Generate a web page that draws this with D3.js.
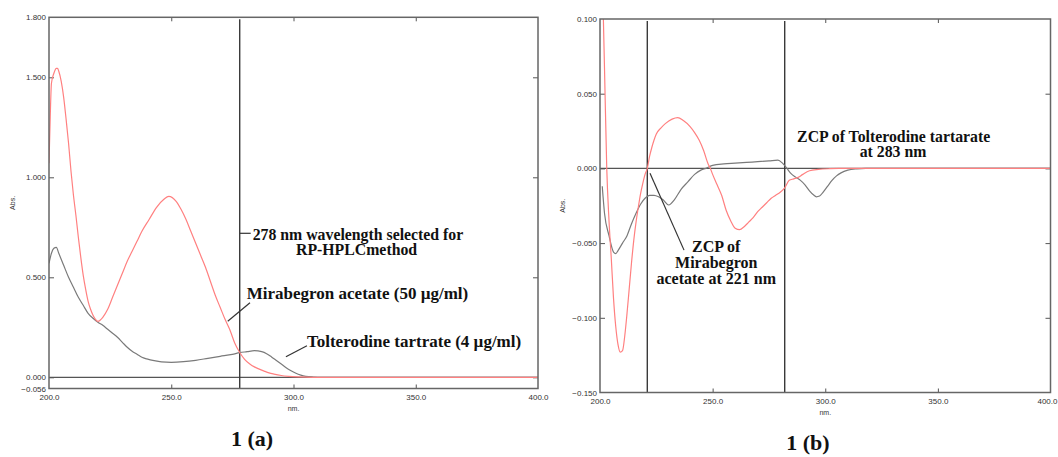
<!DOCTYPE html>
<html>
<head>
<meta charset="utf-8">
<script src="https://cdn.jsdelivr.net/npm/d3@7"></script>
<style>
  body { margin: 0; background: #fff; }
  .tick text { font-family: "Liberation Sans", Arial, sans-serif; font-size: 8px; fill: #333; }
  .note { font-family: "Liberation Serif", "Times New Roman", serif; font-weight: bold; fill: #111; }
</style>
</head>
<body>
<svg id="chart" width="1058" height="457"></svg>
<script>
// ---- data ----
// panel 1(a): zero order spectra [nm, Abs]
var mirabegronAbs = [[200,1.07],[200.5,1.30],[201,1.47],[202,1.52],[203,1.545],[203.5,1.545],[204,1.53],[205,1.48],
  [206,1.40],[207,1.29],[208,1.17],[209,1.03],[210,0.91],[211,0.81],[212,0.70],[213,0.60],[214,0.51],[215,0.44],
  [216,0.38],[217,0.34],[218,0.31],[219,0.29],[220,0.28],[222,0.30],[224,0.34],[226,0.40],[228,0.46],[230,0.52],
  [232,0.58],[234,0.63],[236,0.68],[238,0.73],[241,0.79],[244,0.85],[247,0.89],[249,0.905],[252,0.88],[254,0.84],
  [256,0.79],[258,0.73],[260,0.67],[262,0.61],[264,0.55],[266,0.48],[268,0.41],[270,0.35],[272,0.29],[274,0.237],
  [276,0.17],[278,0.124],[280,0.09],[282,0.068],[284,0.052],[286,0.041],[288,0.031],[290,0.022],[292,0.016],
  [295,0.009],[298,0.005],[302,0.002],[308,0.0],[350,0.0],[400,0.0]];
var tolterodineAbs = [[200,0.57],[201,0.62],[202,0.645],[203,0.65],[204,0.62],[206,0.56],[208,0.50],[210,0.45],
  [212,0.40],[214,0.36],[216,0.32],[218,0.295],[220,0.275],[222,0.26],[224,0.24],[226,0.22],[228,0.20],[230,0.175],
  [232,0.15],[234,0.13],[236,0.115],[238,0.10],[240,0.092],[243,0.083],[246,0.077],[250,0.075],[255,0.078],
  [260,0.085],[265,0.095],[270,0.105],[275,0.115],[278,0.123],[281,0.128],[284,0.133],[287,0.128],[289,0.118],
  [291,0.102],[293,0.084],[295,0.066],[297,0.048],[299,0.033],[301,0.02],[303,0.011],[305,0.005],[308,0.0015],
  [312,0.0],[350,0.0],[400,0.0]];

// panel 1(b): first derivative spectra [nm, dA]
var mirabegronD1 = [[200,0.20],[201,0.135],[201.5,0.10],[202,0.067],[203,0.0],[204,-0.035],[205,-0.06],[206,-0.087],
  [207,-0.106],[208,-0.118],[209,-0.123],[210,-0.122],[211,-0.112],[212,-0.097],[213,-0.08],[214,-0.063],
  [215,-0.048],[216,-0.036],[217,-0.026],[218,-0.017],[219,-0.010],[220,-0.004],[221,0.0],[222,0.008],[223,0.014],
  [224,0.019],[225,0.023],[227,0.027],[229,0.030],[232,0.033],[234.5,0.034],[237,0.032],[240,0.028],[242,0.024],
  [244,0.019],[246,0.012],[248,0.003],[249,0.0],[250,-0.004],[252,-0.011],[254,-0.018],[256,-0.028],[258,-0.035],
  [260,-0.040],[262,-0.041],[264,-0.039],[266,-0.036],[268,-0.033],[270,-0.029],[272,-0.026],[274,-0.023],
  [276,-0.020],[278,-0.018],[280,-0.016],[282,-0.013],[284,-0.008],[286,-0.007],[288,-0.006],[290,-0.004],
  [293,-0.0016],[297,-0.0007],[302,-0.0002],[306,0.0],[350,0.0],[400,0.0]];
var tolterodineD1 = [[201,-0.012],[202,-0.03],[204,-0.045],[206,-0.056],[207,-0.057],[208,-0.055],[210,-0.05],
  [212,-0.045],[214,-0.037],[216,-0.030],[218,-0.024],[220,-0.02],[222,-0.018],[224,-0.018],[226,-0.019],
  [228,-0.021],[230.5,-0.0245],[233,-0.021],[236,-0.014],[239,-0.009],[242,-0.004],[245,-0.001],[247,0.0],
  [250,0.002],[255,0.003],[260,0.0035],[265,0.004],[270,0.0045],[275,0.005],[279,0.0055],[281,0.0035],[283,0.0],
  [284.5,-0.003],[287,-0.006],[289,-0.008],[291,-0.011],[293,-0.015],[295,-0.018],[296,-0.019],[297.5,-0.0185],
  [299,-0.016],[301,-0.012],[303,-0.008],[305,-0.005],[307,-0.003],[310,-0.0012],[314,-0.0003],[318,0.0],
  [350,0.0],[400,0.0]];

var xTicks = [200, 250, 300, 350, 400];
var yTicksA = [1.8, 1.5, 1.0, 0.5, 0.0, -0.056];
var yTicksB = [0.1, 0.05, 0.0, -0.05, -0.1, -0.15];
var selectedLine = [278];        // nm marked in 1(a)
var zcpLines = [221, 282];       // nm marked in 1(b)

var svg = d3.select('#chart');

// one spectrum panel
function panel(opts) {
    var x = d3.scaleLinear().domain([200, 400]).range(opts.xr);
    var y = d3.scaleLinear().domain(opts.yd).range(opts.yr);
    var g = svg.append('g');

    g.append('clipPath').attr('id', opts.id + '-clip')
        .append('rect')
        .attr('x', opts.xr[0]).attr('y', opts.yr[1])
        .attr('width', opts.xr[1] - opts.xr[0]).attr('height', opts.yr[0] - opts.yr[1]);

    // ticks, inward on all four sides
    var innerX = xTicks.slice(1, -1);
    var innerY = opts.yTicks.slice(1, -1);
    var bottom = g.append('g').attr('transform', 'translate(0,' + opts.yr[0] + ')')
        .call(d3.axisBottom(x).tickValues(xTicks).tickFormat(d3.format('.1f')).tickSize(0).tickPadding(6));
    // keep the last label on the page
    bottom.selectAll('.tick text').filter(function (d) { return x(d) + 12 > 1058; })
        .attr('text-anchor', 'end').attr('dx', 1058 - 1 - x(400));
    g.append('g').attr('transform', 'translate(0,' + opts.yr[0] + ')')
        .call(d3.axisBottom(x).tickValues(innerX).tickFormat('').tickSize(-4));
    g.append('g').attr('transform', 'translate(0,' + opts.yr[1] + ')')
        .call(d3.axisTop(x).tickValues(innerX).tickFormat('').tickSize(-4));
    g.append('g').attr('transform', 'translate(' + opts.xr[0] + ',0)')
        .call(d3.axisLeft(y).tickValues(opts.yTicks).tickFormat(d3.format('.3f')).tickSize(0).tickPadding(3));
    g.append('g').attr('transform', 'translate(' + opts.xr[0] + ',0)')
        .call(d3.axisLeft(y).tickValues(innerY).tickFormat('').tickSize(-5));
    g.append('g').attr('transform', 'translate(' + opts.xr[1] + ',0)')
        .call(d3.axisRight(y).tickValues(innerY).tickFormat('').tickSize(-5));
    g.selectAll('.domain').remove();
    g.selectAll('.tick line').attr('stroke', '#555');

    // zero line
    g.append('line')
        .attr('x1', opts.xr[0]).attr('x2', opts.xr[1])
        .attr('y1', y(0)).attr('y2', y(0))
        .attr('stroke', '#555').attr('stroke-width', 1.3);

    // marker lines
    g.selectAll('.vline').data(opts.vlines).enter().append('line')
        .attr('x1', function (d) { return x(d); }).attr('x2', function (d) { return x(d); })
        .attr('y1', opts.yr[1] + 2).attr('y2', opts.yr[0])
        .attr('stroke', '#3a3a3a').attr('stroke-width', 1.4);

    var line = d3.line()
        .x(function (d) { return x(d[0]); })
        .y(function (d) { return y(d[1]); })
        .curve(d3.curveMonotoneX);

    var curves = g.append('g').attr('clip-path', 'url(#' + opts.id + '-clip)');
    curves.append('path').datum(opts.gray)
        .attr('d', line).attr('fill', 'none').attr('stroke', '#7a7a7a').attr('stroke-width', 1.2);
    curves.append('path').datum(opts.red)
        .attr('d', line).attr('fill', 'none').attr('stroke', '#ff8080').attr('stroke-width', 1.2);

    // frame
    g.append('rect')
        .attr('x', opts.xr[0]).attr('y', opts.yr[1])
        .attr('width', opts.xr[1] - opts.xr[0]).attr('height', opts.yr[0] - opts.yr[1])
        .attr('fill', 'none').attr('stroke', '#666').attr('stroke-width', 1.5);

    // axis names
    g.append('text')
        .attr('transform', 'translate(' + opts.absX + ',' + ((opts.yr[0] + opts.yr[1]) / 2) + ') rotate(-90)')
        .attr('text-anchor', 'middle')
        .style('font-family', '"Liberation Sans", Arial, sans-serif').style('font-size', '7px').style('fill', '#333')
        .text('Abs.');
    g.append('text')
        .attr('x', x(300)).attr('y', opts.yr[0] + 22)
        .attr('text-anchor', 'middle')
        .style('font-family', '"Liberation Sans", Arial, sans-serif').style('font-size', '7px').style('fill', '#333')
        .text('nm.');

    // annotations (positions in data units)
    opts.notes.forEach(function (n) {
        g.append('text').attr('class', 'note')
            .attr('x', x(n.nm)).attr('y', y(n.v))
            .attr('text-anchor', n.anchor || 'start')
            .style('font-size', n.size + 'px')
            .text(n.text);
    });
    opts.leaders.forEach(function (l) {
        g.append('line')
            .attr('x1', x(l[0])).attr('y1', y(l[1]))
            .attr('x2', x(l[2])).attr('y2', y(l[3]))
            .attr('stroke', '#333').attr('stroke-width', 1.2);
    });

    g.append('text')
        .attr('x', opts.capX).attr('y', opts.capY)
        .attr('text-anchor', 'middle')
        .style('font-family', '"Liberation Serif", "Times New Roman", serif')
        .style('font-weight', 'bold').style('font-size', '22px').style('fill', '#111')
        .text(opts.caption);
}

panel({
    id: 'a',
    xr: [49, 538], yd: [-0.056, 1.8], yr: [388.5, 17.3],
    yTicks: yTicksA, vlines: selectedLine,
    red: mirabegronAbs, gray: tolterodineAbs,
    absX: 15,
    notes: [
        {nm: 283.3, v: 0.686, text: '278 nm wavelength selected for', size: 15.8},
        {nm: 325.8, v: 0.61, text: 'RP-HPLCmethod', anchor: 'middle', size: 15.8},
        {nm: 280.9, v: 0.39, text: 'Mirabegron acetate (50 \u00b5g/ml)', size: 17},
        {nm: 305.5, v: 0.153, text: 'Tolterodine tartrate (4 \u00b5g/ml)', size: 17}
    ],
    leaders: [[278.1, 0.72, 282.5, 0.72], [273.1, 0.28, 282.2, 0.373], [296.9, 0.103, 305.5, 0.158]],
    caption: '1 (a)', capX: 252, capY: 446
});

panel({
    id: 'b',
    xr: [600, 1050.5], yd: [-0.15, 0.1], yr: [392.5, 19],
    yTicks: yTicksB, vlines: zcpLines,
    red: mirabegronD1, gray: tolterodineD1,
    absX: 565,
    notes: [
        {nm: 287.5, v: 0.0178, text: 'ZCP of Tolterodine tartarate', size: 15.8},
        {nm: 330.1, v: 0.0074, text: 'at 283 nm', anchor: 'middle', size: 15.8},
        {nm: 251.6, v: -0.0558, text: 'ZCP of', anchor: 'middle', size: 16},
        {nm: 251.6, v: -0.0669, text: 'Mirabegron', anchor: 'middle', size: 16},
        {nm: 251.6, v: -0.0776, text: 'acetate at 221 nm', anchor: 'middle', size: 16}
    ],
    leaders: [[222.2, -0.0033, 237.3, -0.0547]],
    caption: '1 (b)', capX: 808, capY: 450
});
</script>
</body>
</html>
